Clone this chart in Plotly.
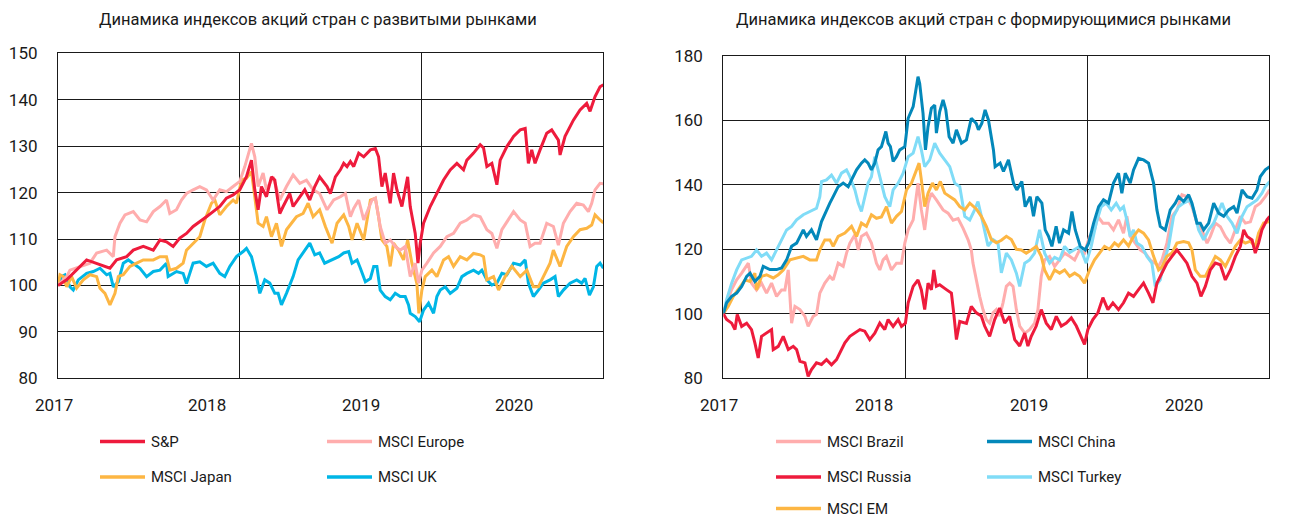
import pandas as pd
import plotly.graph_objects as go

# ---------------- DATA (index, start of 2017 = 100) ----------------
# time is given in months since 1 Jan 2017
year_labels = ["2017", "2018", "2019", "2020"]

left_title = "Динамика индексов акций стран с развитыми рынками"
right_title = "Динамика индексов акций стран с формирующимися рынками"

sp_m = [0, 0.57, 1.89, 2.77, 3.43, 3.87, 4.53, 4.97, 5.63, 6.29, 6.73, 7.16, 7.60, 8.04, 8.48, 8.92, 9.36, 9.80,
        10.24, 10.68, 11.12, 11.56, 12.0, 12.44, 12.77, 12.99, 13.21, 13.43, 13.76, 14.09, 14.31, 14.64, 14.86,
        15.30, 15.52, 15.96, 16.29, 16.62, 16.95, 17.27, 17.60, 17.76, 17.98, 18.31, 18.64, 18.86, 19.08, 19.30,
        19.52, 19.85, 20.18, 20.62, 20.95, 21.16, 21.38, 21.60, 21.93, 22.15, 22.37, 22.70, 23.08, 23.25, 23.58,
        23.76, 23.91, 24.13, 24.57, 25.01, 25.45, 25.89, 26.33, 26.77, 26.99, 27.43, 27.87, 28.09, 28.31, 28.64,
        28.97, 29.19, 29.63, 30.07, 30.51, 30.84, 31.05, 31.27, 31.49, 31.82, 32.26, 32.59, 33.03, 33.14, 33.47,
        34.02, 34.46, 34.90, 35.12, 35.45, 35.78, 36.0]
sp_v = [100, 101.2, 105.5, 104.4, 103.7, 105.5, 106.2, 107.6, 108.4, 107.6, 109.8, 109.4, 108.4, 110.2, 111.2,
        112.7, 113.7, 114.8, 115.9, 117.0, 118.8, 119.5, 120.6, 123.4, 127.0, 120.6, 116.3, 121.3, 119.1, 123.4,
        122.7, 115.5, 117.0, 119.8, 117.0, 119.1, 120.6, 118.4, 121.3, 123.4, 122.0, 121.3, 119.8, 123.4, 124.9,
        126.3, 125.6, 126.7, 125.6, 128.5, 127.7, 129.2, 129.5, 127.7, 121.3, 124.2, 117.7, 124.2, 120.6, 117.0,
        123.4, 117.0, 111.2, 104.8, 109.1, 113.4, 117.0, 119.8, 122.7, 124.9, 126.3, 124.9, 127.0, 128.5, 130.3,
        129.6, 125.6, 126.3, 121.7, 127.0, 129.9, 132.1, 133.5, 133.8, 126.3, 129.2, 126.3, 129.2, 132.8, 133.5,
        131.3, 128.1, 132.1, 135.6, 137.8, 139.2, 137.5, 140.7, 142.8, 143.2]

eu_m = [0, 0.57, 0.79, 1.45, 2.11, 2.55, 3.21, 3.65, 3.76, 4.09, 4.42, 4.97, 5.41, 5.85, 6.29, 6.73, 7.16, 7.38,
        7.82, 8.15, 8.48, 8.92, 9.36, 9.80, 10.24, 10.68, 11.12, 11.56, 12.0, 12.33, 12.77, 12.99, 13.21, 13.54,
        13.76, 14.20, 14.64, 15.08, 15.52, 15.96, 16.40, 16.84, 17.27, 17.76, 18.20, 18.64, 18.97, 19.30, 19.52,
        19.85, 20.18, 20.73, 20.95, 21.27, 21.60, 21.93, 22.26, 22.59, 22.92, 23.25, 23.58, 23.80, 24.02, 24.35,
        24.79, 25.23, 25.67, 26.11, 26.55, 26.99, 27.43, 27.87, 28.31, 28.64, 28.97, 29.30, 29.63, 30.07, 30.51,
        30.84, 31.16, 31.49, 31.82, 32.26, 32.70, 33.03, 33.36, 33.80, 34.24, 34.68, 35.01, 35.23, 35.45, 35.78, 36.0]
eu_v = [100, 101.9, 103.3, 104.1, 104.8, 107.0, 107.6, 106.2, 110.5, 113.4, 115.2, 115.9, 114.1, 113.7, 115.9,
        117.0, 118.4, 115.5, 116.3, 118.4, 119.8, 120.6, 121.3, 120.6, 118.4, 120.6, 120.2, 121.3, 122.4, 125.6,
        130.6, 127.7, 121.3, 124.2, 120.6, 123.4, 118.4, 121.3, 123.8, 122.0, 122.7, 120.6, 119.8, 116.3, 118.4,
        119.1, 119.8, 114.8, 116.6, 118.4, 114.1, 118.4, 118.8, 112.7, 109.1, 109.8, 108.4, 107.6, 108.4, 101.9,
        104.8, 100.5, 103.3, 104.8, 107.0, 108.4, 110.5, 111.2, 113.4, 114.1, 115.2, 114.8, 112.0, 111.2, 108.0,
        112.0, 113.7, 115.9, 114.1, 113.4, 108.4, 109.1, 109.1, 113.4, 112.7, 108.7, 113.4, 115.9, 117.7, 117.3,
        115.9, 117.7, 120.6, 122.0, 121.9]

jp_m = [0, 0.13, 0.35, 0.57, 0.90, 1.23, 1.67, 2.11, 2.55, 2.77, 3.10, 3.43, 3.76, 3.98, 4.31, 4.75, 5.19, 5.63,
        6.29, 6.73, 7.16, 7.38, 7.82, 8.26, 8.48, 8.92, 9.36, 9.69, 10.13, 10.35, 10.68, 11.12, 11.56, 11.78, 12.11,
        12.44, 12.77, 12.99, 13.21, 13.54, 13.76, 14.09, 14.42, 14.75, 15.08, 15.41, 15.74, 16.18, 16.51, 16.84,
        17.27, 17.65, 18.09, 18.42, 18.86, 19.19, 19.41, 19.74, 20.18, 20.62, 20.95, 21.16, 21.38, 21.71, 21.93,
        22.15, 22.48, 22.81, 23.08, 23.36, 23.69, 23.82, 24.02, 24.24, 24.68, 25.01, 25.45, 25.78, 26.11, 26.55,
        26.99, 27.43, 27.87, 28.09, 28.31, 28.75, 29.08, 29.52, 29.96, 30.51, 30.95, 31.38, 31.71, 32.04, 32.48,
        32.70, 33.14, 33.58, 34.02, 34.46, 34.90, 35.23, 35.45, 35.78, 36.0]
jp_v = [100, 102.3, 101.9, 99.7, 101.9, 99.4, 101.2, 102.3, 101.9, 99.4, 98.3, 95.8, 98.3, 101.9, 102.3, 104.1,
        104.8, 105.5, 105.5, 106.2, 106.2, 103.3, 103.7, 104.8, 107.6, 109.1, 110.5, 114.1, 117.7, 118.4, 115.2,
        117.0, 118.4, 117.7, 122.7, 123.1, 124.5, 119.1, 113.4, 112.7, 114.8, 110.5, 113.4, 108.4, 112.0, 113.4,
        114.8, 115.5, 117.7, 114.8, 116.3, 112.7, 109.1, 113.4, 115.2, 112.7, 109.8, 113.4, 109.8, 118.4, 118.8,
        114.8, 109.8, 108.4, 104.1, 109.1, 107.6, 105.5, 109.8, 104.8, 100.4, 94.0, 99.0, 101.9, 103.3, 101.9,
        105.5, 106.2, 104.1, 106.2, 105.5, 106.9, 106.6, 106.2, 101.2, 101.9, 99.0, 101.9, 104.1, 101.9, 103.3,
        99.7, 99.7, 101.9, 104.8, 107.6, 104.1, 108.4, 110.5, 112.0, 112.3, 113.0, 115.2, 114.1, 113.5]

uk_m = [0, 0.24, 0.46, 0.79, 1.01, 1.34, 1.89, 2.33, 2.77, 3.21, 3.43, 3.65, 3.98, 4.31, 4.64, 4.97, 5.41, 5.85,
        6.29, 6.73, 7.16, 7.27, 7.82, 8.26, 8.48, 8.92, 9.36, 9.80, 10.24, 10.68, 11.01, 11.34, 11.78, 12.22, 12.44,
        12.77, 13.10, 13.32, 13.65, 13.98, 14.31, 14.53, 14.75, 15.08, 15.52, 15.85, 16.29, 16.62, 16.95, 17.27,
        17.60, 18.09, 18.53, 18.86, 19.19, 19.41, 19.74, 19.96, 20.29, 20.62, 20.84, 21.05, 21.27, 21.60, 21.93,
        22.26, 22.59, 22.92, 23.14, 23.25, 23.58, 23.87, 24.13, 24.46, 24.79, 25.01, 25.23, 25.56, 25.89, 26.33,
        26.66, 26.99, 27.43, 27.76, 27.98, 28.31, 28.64, 28.97, 29.30, 29.63, 30.07, 30.51, 30.84, 31.05, 31.38,
        31.71, 32.04, 32.48, 32.81, 33.03, 33.36, 33.80, 34.24, 34.57, 34.79, 35.08, 35.34, 35.56, 35.78, 36.0]
uk_v = [100, 101.9, 102.3, 99.7, 99.0, 101.2, 102.6, 103.0, 103.7, 102.3, 102.6, 99.7, 100.8, 104.8, 105.5, 104.8,
        103.7, 101.9, 103.0, 103.3, 104.8, 101.9, 103.0, 102.6, 100.4, 104.8, 105.1, 104.1, 104.8, 102.6, 101.9,
        104.1, 106.2, 107.3, 108.0, 106.2, 101.9, 98.3, 101.2, 100.5, 98.3, 98.3, 95.8, 98.3, 101.9, 105.5, 107.6,
        109.1, 106.6, 107.0, 104.8, 105.5, 106.2, 107.0, 107.3, 104.8, 105.5, 103.7, 100.8, 101.5, 104.1, 104.1,
        99.0, 97.6, 96.9, 98.3, 97.6, 97.6, 95.8, 94.0, 93.3, 92.2, 94.7, 96.2, 94.0, 97.6, 99.0, 99.7, 98.3, 99.4,
        101.9, 102.6, 103.3, 102.6, 103.3, 101.2, 100.1, 100.5, 102.6, 102.3, 104.8, 104.4, 105.5, 100.5, 97.6,
        99.0, 100.5, 101.2, 101.9, 97.6, 99.0, 100.5, 101.2, 100.5, 101.5, 97.9, 99.7, 104.1, 104.8, 103.7]

cn_m = [0, 0.22, 0.55, 0.88, 1.21, 1.54, 1.76, 2.08, 2.41, 2.63, 3.07, 3.51, 3.84, 4.17, 4.50, 4.83, 5.27, 5.48,
        5.81, 6.14, 6.47, 6.80, 7.02, 7.24, 7.57, 7.90, 8.23, 8.45, 8.78, 9.10, 9.32, 9.54, 9.76, 9.98, 10.20, 10.42,
        10.71, 10.86, 11.01, 11.19, 11.41, 11.63, 11.96, 12.18, 12.51, 12.83, 12.94, 13.16, 13.32, 13.49, 13.71,
        13.93, 14.04, 14.26, 14.48, 14.66, 14.88, 15.14, 15.36, 15.69, 16.02, 16.34, 16.67, 16.81, 17.03, 17.25,
        17.47, 17.80, 17.91, 18.24, 18.46, 18.79, 19.12, 19.34, 19.67, 19.89, 20.22, 20.44, 20.66, 20.99, 21.21,
        21.43, 21.65, 21.93, 22.15, 22.42, 22.75, 22.97, 23.19, 23.52, 23.85, 24.07, 24.40, 24.73, 25.05, 25.38,
        25.71, 26.04, 26.26, 26.48, 26.81, 27.03, 27.36, 27.69, 28.02, 28.35, 28.57, 28.79, 29.12, 29.45, 29.78,
        30.00, 30.33, 30.66, 30.88, 31.21, 31.43, 31.65, 31.98, 32.31, 32.64, 32.97, 33.30, 33.63, 33.85, 34.18,
        34.51, 34.84, 35.16, 35.38, 35.71, 36.0]
cn_v = [100, 103.4, 105.4, 106.4, 108.5, 111.6, 112.6, 110.0, 111.6, 114.7, 113.7, 113.7, 114.2, 116.7, 120.9,
        121.9, 126.0, 124.0, 126.0, 122.9, 128.6, 132.2, 134.3, 136.3, 139.4, 140.5, 139.4, 141.5, 144.6, 146.7,
        147.7, 146.7, 144.6, 146.7, 150.8, 151.8, 156.5, 152.9, 151.8, 147.2, 148.7, 150.8, 151.8, 160.6, 164.2,
        173.5, 171.4, 162.1, 150.8, 158.0, 163.7, 164.7, 156.0, 162.7, 166.3, 163.2, 154.9, 152.9, 157.0, 152.9,
        153.9, 160.6, 159.0, 157.0, 159.0, 163.2, 160.1, 150.8, 145.6, 146.7, 144.1, 147.7, 140.5, 138.4, 141.0,
        133.2, 136.3, 130.2, 136.3, 134.3, 126.0, 124.0, 120.9, 127.1, 121.9, 126.0, 125.0, 131.7, 126.0, 120.9,
        119.8, 121.9, 128.1, 133.2, 135.3, 134.3, 140.5, 143.6, 137.4, 143.6, 140.5, 144.6, 148.2, 147.7, 146.7,
        140.5, 132.2, 127.1, 126.0, 132.2, 134.3, 136.3, 134.8, 136.9, 134.3, 128.1, 128.1, 126.0, 128.1, 134.3,
        131.2, 130.2, 132.2, 133.2, 131.2, 138.4, 136.3, 135.8, 138.4, 142.5, 144.6, 145.6]

tr_m = [0, 0.22, 0.55, 0.88, 1.21, 1.54, 1.86, 2.19, 2.52, 2.85, 3.18, 3.51, 3.84, 4.17, 4.50, 4.83, 5.27, 5.70,
        6.14, 6.36, 6.47, 6.80, 7.13, 7.46, 7.79, 8.12, 8.34, 8.67, 8.89, 9.10, 9.32, 9.54, 9.76, 9.98, 10.31, 10.64,
        10.97, 11.19, 11.52, 11.85, 12.18, 12.51, 12.83, 13.05, 13.27, 13.60, 13.93, 14.26, 14.59, 14.92, 15.25,
        15.58, 15.91, 16.24, 16.56, 16.78, 17.11, 17.44, 17.77, 18.10, 18.32, 18.65, 18.98, 19.31, 19.53, 19.86,
        20.18, 20.51, 20.84, 21.17, 21.50, 21.83, 22.16, 22.49, 22.82, 23.15, 23.48, 23.91, 24.24, 24.57, 24.90,
        25.23, 25.56, 25.89, 26.15, 26.37, 26.59, 26.81, 27.03, 27.25, 27.58, 27.91, 28.24, 28.46, 28.79, 29.01,
        29.34, 29.67, 30.00, 30.33, 30.77, 30.99, 31.32, 31.65, 31.98, 32.31, 32.64, 32.86, 33.19, 33.52, 33.85,
        34.18, 34.51, 34.84, 35.16, 35.49, 35.71, 36.0]
tr_v = [100, 104.4, 109.5, 113.6, 116.7, 117.3, 117.8, 119.8, 117.8, 118.8, 116.7, 119.8, 122.9, 126.0, 127.1,
        129.1, 130.7, 131.7, 132.7, 136.3, 141.0, 141.5, 143.0, 140.5, 143.6, 144.6, 142.5, 138.4, 134.3, 131.7,
        136.3, 140.5, 142.5, 148.7, 142.5, 136.3, 133.2, 138.4, 140.5, 143.6, 148.7, 149.8, 154.9, 150.8, 145.6,
        147.7, 152.9, 149.8, 147.7, 145.6, 140.5, 139.4, 130.2, 129.1, 132.2, 134.8, 128.1, 121.0, 123.0, 122.0,
        112.7, 118.8, 116.7, 112.6, 108.5, 115.7, 116.7, 118.8, 126.0, 118.8, 115.7, 117.5, 116.7, 120.9, 119.0,
        120.0, 120.9, 115.7, 120.9, 128.1, 133.2, 134.3, 132.2, 134.3, 132.2, 133.2, 129.1, 124.0, 126.0, 121.9,
        120.9, 117.8, 115.7, 108.5, 110.5, 115.7, 120.9, 130.2, 133.2, 134.3, 135.3, 132.2, 126.0, 122.9, 126.0,
        128.1, 132.2, 134.3, 130.2, 128.1, 124.9, 130.2, 133.2, 134.3, 135.3, 137.4, 139.4, 141.0]

em_m = [0, 0.33, 0.66, 1.10, 1.43, 1.76, 2.08, 2.19, 2.52, 2.85, 3.29, 3.62, 3.95, 4.39, 4.83, 5.27, 5.70, 6.14,
        6.36, 6.69, 7.02, 7.24, 7.57, 8.01, 8.45, 8.78, 9.10, 9.43, 9.76, 10.09, 10.42, 10.75, 11.08, 11.41, 11.74,
        12.07, 12.40, 12.72, 12.90, 13.05, 13.27, 13.49, 13.78, 14.04, 14.30, 14.59, 14.92, 15.25, 15.58, 15.91,
        16.24, 16.67, 17.00, 17.33, 17.66, 17.99, 18.32, 18.65, 18.98, 19.31, 19.64, 19.96, 20.29, 20.62, 20.95,
        21.17, 21.50, 21.83, 22.16, 22.49, 22.82, 23.15, 23.48, 23.80, 24.13, 24.46, 24.79, 25.12, 25.45, 25.78,
        26.04, 26.37, 26.70, 27.03, 27.36, 27.69, 28.02, 28.35, 28.68, 28.90, 29.23, 29.56, 29.89, 30.33, 30.66,
        30.88, 31.10, 31.43, 31.76, 32.09, 32.42, 32.75, 33.08, 33.41, 33.74, 34.07, 34.40, 34.73, 35.05, 35.27,
        35.60, 36.0]
em_v = [100, 102.3, 105.4, 108.5, 110.5, 110.0, 112.6, 107.4, 111.6, 112.1, 111.1, 112.1, 113.6, 116.7, 117.3,
        117.8, 116.7, 116.7, 119.8, 122.9, 122.9, 120.9, 124.0, 125.0, 127.1, 124.0, 128.1, 127.1, 130.7, 129.6,
        130.0, 133.2, 128.1, 130.2, 131.7, 138.4, 140.5, 144.6, 146.7, 141.5, 133.2, 137.4, 140.5, 138.4, 141.0,
        137.4, 136.3, 135.3, 133.2, 132.2, 134.3, 132.5, 130.2, 127.1, 123.0, 122.0, 122.8, 124.0, 123.0, 120.0,
        119.8, 118.8, 119.8, 120.9, 117.8, 113.6, 110.5, 113.6, 112.6, 113.6, 111.6, 112.6, 111.6, 109.5, 113.6,
        116.7, 118.8, 120.9, 120.0, 122.0, 121.0, 122.9, 121.0, 124.0, 126.0, 125.0, 122.9, 117.8, 113.6, 114.5,
        117.8, 118.8, 121.9, 122.4, 122.0, 119.8, 113.6, 111.6, 111.6, 114.7, 117.8, 116.7, 114.7, 117.8, 120.9,
        122.9, 121.9, 122.5, 120.9, 125.0, 128.1, 128.6]

br_m = [0, 0.22, 0.55, 0.88, 1.21, 1.65, 1.86, 2.19, 2.52, 2.85, 3.18, 3.51, 3.84, 4.06, 4.28, 4.50, 4.72, 5.05,
        5.38, 5.59, 5.92, 6.14, 6.36, 6.69, 7.02, 7.24, 7.57, 7.90, 8.12, 8.34, 8.67, 8.89, 9.10, 9.43, 9.76, 10.09,
        10.31, 10.53, 10.75, 11.08, 11.41, 11.74, 11.96, 12.18, 12.51, 12.83, 13.05, 13.27, 13.49, 13.71, 14.04,
        14.48, 14.81, 15.14, 15.47, 15.80, 16.13, 16.34, 16.45, 16.67, 16.89, 17.11, 17.33, 17.55, 17.77, 17.99,
        18.21, 18.43, 18.65, 18.87, 19.09, 19.31, 19.53, 19.86, 20.18, 20.51, 20.73, 20.95, 21.17, 21.50, 21.83,
        22.16, 22.49, 22.82, 23.15, 23.48, 23.80, 24.13, 24.46, 24.68, 25.01, 25.38, 25.71, 26.04, 26.37, 26.59,
        26.81, 27.14, 27.47, 27.80, 28.13, 28.46, 28.68, 28.90, 29.23, 29.56, 29.89, 30.22, 30.55, 30.88, 31.21,
        31.54, 31.87, 32.09, 32.42, 32.75, 33.08, 33.41, 33.74, 34.07, 34.40, 34.73, 35.05, 35.38, 35.71, 36.0]
br_v = [100, 103.4, 107.5, 110.5, 112.6, 115.7, 109.5, 107.4, 109.5, 106.4, 109.5, 105.4, 107.4, 107.4, 113.6,
        97.1, 102.3, 101.3, 99.2, 96.1, 99.2, 99.8, 106.4, 109.5, 111.6, 110.5, 115.7, 114.7, 118.8, 121.9, 124.5,
        119.8, 124.0, 125.0, 121.9, 115.7, 113.6, 116.7, 117.8, 113.6, 115.7, 115.7, 121.9, 126.0, 129.1, 140.5,
        132.2, 126.0, 134.3, 137.4, 135.3, 132.2, 131.2, 129.0, 129.5, 126.5, 122.9, 119.8, 115.7, 110.5, 105.4,
        101.3, 98.2, 97.1, 100.3, 101.3, 99.3, 103.4, 108.5, 109.5, 108.5, 101.3, 96.2, 94.0, 95.1, 97.1, 101.3,
        111.6, 116.7, 117.8, 114.7, 116.7, 118.8, 117.8, 116.7, 119.8, 118.8, 124.0, 126.0, 130.2, 128.1, 128.1,
        126.0, 129.1, 125.0, 130.2, 124.0, 121.9, 119.8, 118.8, 116.7, 115.7, 114.7, 116.7, 121.9, 130.2, 132.2,
        136.9, 136.3, 133.2, 128.1, 126.0, 121.9, 124.0, 128.1, 127.0, 124.0, 121.9, 126.0, 130.2, 128.1, 128.5,
        133.2, 134.3, 136.3, 138.4]

ru_m = [0, 0.22, 0.55, 0.77, 0.92, 1.21, 1.54, 1.86, 2.08, 2.30, 2.52, 2.85, 3.18, 3.29, 3.62, 3.95, 4.28, 4.61,
        4.83, 5.05, 5.38, 5.59, 5.81, 6.14, 6.47, 6.80, 7.13, 7.46, 7.79, 8.01, 8.34, 8.67, 9.00, 9.32, 9.65, 9.98,
        10.31, 10.64, 10.86, 11.19, 11.52, 11.74, 12.0, 12.18, 12.51, 12.83, 13.05, 13.27, 13.49, 13.71, 13.87,
        14.04, 14.26, 14.70, 15.03, 15.18, 15.36, 15.58, 16.02, 16.34, 16.67, 17.00, 17.22, 17.55, 17.88, 18.21,
        18.54, 18.87, 19.20, 19.53, 19.86, 20.07, 20.29, 20.62, 20.95, 21.28, 21.61, 21.94, 22.27, 22.60, 22.93,
        23.26, 23.58, 23.80, 24.02, 24.35, 24.68, 25.01, 25.34, 25.67, 26.04, 26.37, 26.70, 27.03, 27.36, 27.69,
        28.02, 28.31, 28.57, 28.90, 29.23, 29.56, 29.89, 30.22, 30.55, 30.88, 31.21, 31.47, 31.76, 32.09, 32.42,
        32.75, 33.08, 33.41, 33.74, 34.07, 34.29, 34.51, 34.84, 35.05, 35.27, 35.49, 35.82, 36.0]
ru_v = [100, 98.2, 97.1, 95.1, 99.8, 96.1, 97.1, 95.1, 91.0, 86.3, 93.0, 94.0, 95.1, 88.9, 89.9, 93.0, 88.9, 89.9,
        88.9, 85.3, 84.8, 80.6, 82.7, 84.8, 84.3, 85.8, 84.2, 85.8, 88.9, 91.0, 93.0, 94.0, 95.1, 94.6, 92.0, 94.0,
        97.1, 95.1, 98.2, 96.1, 98.2, 96.1, 97.1, 103.4, 108.5, 110.5, 107.4, 101.3, 109.5, 107.4, 113.6, 108.5,
        109.0, 107.5, 106.4, 100.3, 92.0, 97.6, 97.0, 102.3, 100.3, 99.3, 96.2, 93.0, 98.2, 101.8, 97.1, 99.2, 92.0,
        90.0, 94.0, 90.0, 93.0, 96.2, 101.3, 97.1, 95.1, 99.2, 96.2, 97.1, 98.7, 96.2, 93.0, 90.5, 95.1, 98.2, 100.3,
        105.0, 101.3, 103.4, 101.3, 103.4, 106.4, 105.4, 107.5, 109.5, 106.4, 103.4, 109.5, 112.6, 115.7, 117.8,
        119.8, 117.8, 115.7, 111.6, 109.5, 105.4, 108.5, 113.6, 115.7, 115.2, 110.5, 113.6, 117.8, 120.9, 126.0,
        124.0, 122.9, 118.8, 121.9, 126.0, 129.1, 130.2]

# ---------------- STYLE ----------------
RED = "#EE1B3C"
PINK = "#FFADAD"
ORANGE = "#FDB643"
CYAN = "#00B6E6"
CHINA = "#0388BA"
TURKEY = "#80DCF7"
INK = "#1a1a1a"
FONT = "Roboto, sans-serif"
LINE_W = 3.0

W, H = 1302, 520
BASE = pd.Timestamp("2017-01-01")


def to_dates(months):
    return [BASE + pd.Timedelta(days=m * 30.4375) for m in months]


left_series = [
    ("MSCI UK", uk_m, uk_v, CYAN),
    ("MSCI Japan", jp_m, jp_v, ORANGE),
    ("MSCI Europe", eu_m, eu_v, PINK),
    ("S&P", sp_m, sp_v, RED),
]
right_series = [
    ("MSCI Brazil", br_m, br_v, PINK),
    ("MSCI Turkey", tr_m, tr_v, TURKEY),
    ("MSCI EM", em_m, em_v, ORANGE),
    ("MSCI China", cn_m, cn_v, CHINA),
    ("MSCI Russia", ru_m, ru_v, RED),
]

fig = go.Figure()
for name, m, v, c in left_series:
    fig.add_trace(go.Scatter(x=to_dates(m), y=v, name=name, mode="lines",
                             line=dict(color=c, width=LINE_W), xaxis="x", yaxis="y", showlegend=False))
for name, m, v, c in right_series:
    fig.add_trace(go.Scatter(x=to_dates(m), y=v, name=name, mode="lines",
                             line=dict(color=c, width=LINE_W), xaxis="x2", yaxis="y2", showlegend=False))


def px_x(p):
    return p / W


def px_y(p):
    return 1 - p / H


xcommon = dict(type="date", range=["2017-01-01", "2020-01-01"],
               tickvals=["2018-01-01", "2019-01-01"], showticklabels=False, automargin=False,
               showgrid=True, gridcolor=INK, gridwidth=1, ticks="",
               showline=True, linecolor=INK, linewidth=1.2, mirror=True, zeroline=False)
ycommon = dict(showgrid=True, gridcolor=INK, gridwidth=1, ticks="", ticklabelstandoff=16, automargin=False,
               showline=True, linecolor=INK, linewidth=1.2, mirror=True, zeroline=False,
               tickfont=dict(family=FONT, size=17, color=INK))

fig.update_layout(
    width=W, height=H, autosize=False,
    margin=dict(l=0, r=0, t=0, b=0, pad=0, autoexpand=False),
    showlegend=False,
    paper_bgcolor="white", plot_bgcolor="white",
    xaxis=dict(domain=[px_x(58), px_x(603)], anchor="y", **xcommon),
    yaxis=dict(domain=[px_y(378.3), px_y(53.3)], anchor="x", range=[80, 150], dtick=10, **ycommon),
    xaxis2=dict(domain=[px_x(723.3), px_x(1269.3)], anchor="y2", **xcommon),
    yaxis2=dict(domain=[px_y(378.3), px_y(55.7)], anchor="x2", range=[80, 180], dtick=20, **ycommon),
)

ann = []
shapes = []


def label(text, x, y, size, anchor="center"):
    ann.append(dict(text=text, x=px_x(x), y=px_y(y), xref="paper", yref="paper",
                    xanchor=anchor, yanchor="middle", showarrow=False,
                    font=dict(family=FONT, size=size, color=INK)))


# titles
label(left_title, 318, 20, 16.5)
label(right_title, 983, 20, 16.5)

# year labels (evenly spaced under each panel)
for start, step in ((54, 153.3), (718.5, 155.3)):
    for i, lab in enumerate(year_labels):
        label(lab, start + i * step, 404.5, 17)

# legends
left_legend = [("S&P", RED, 0, 0), ("MSCI Europe", PINK, 1, 0),
               ("MSCI Japan", ORANGE, 0, 1), ("MSCI UK", CYAN, 1, 1)]
right_legend = [("MSCI Brazil", PINK, 0, 0), ("MSCI China", CHINA, 1, 0),
                ("MSCI Russia", RED, 0, 1), ("MSCI Turkey", TURKEY, 1, 1),
                ("MSCI EM", ORANGE, 0, 2)]
rows_y = [441.5, 477, 508.5]
for items, cols in ((left_legend, [100, 327]), (right_legend, [776, 987])):
    for name, color, col, row in items:
        x0 = cols[col]
        y = rows_y[row]
        shapes.append(dict(type="line", xref="paper", yref="paper",
                           x0=px_x(x0), x1=px_x(x0 + 45), y0=px_y(y), y1=px_y(y),
                           line=dict(color=color, width=3.5)))
        label(name, x0 + 49, y, 15, anchor="left")

fig.update_layout(annotations=ann, shapes=shapes)
fig.write_html(
    "out.html",
    config={"displayModeBar": False},
    post_script=(
        "document.documentElement.style.margin='0';"
        "document.body.style.margin='0';document.body.style.overflow='hidden';"
        "var g=document.querySelector('.plotly-graph-div');"
        "g.style.position='fixed';g.style.top='0px';g.style.left='0px';"
    ),
)
